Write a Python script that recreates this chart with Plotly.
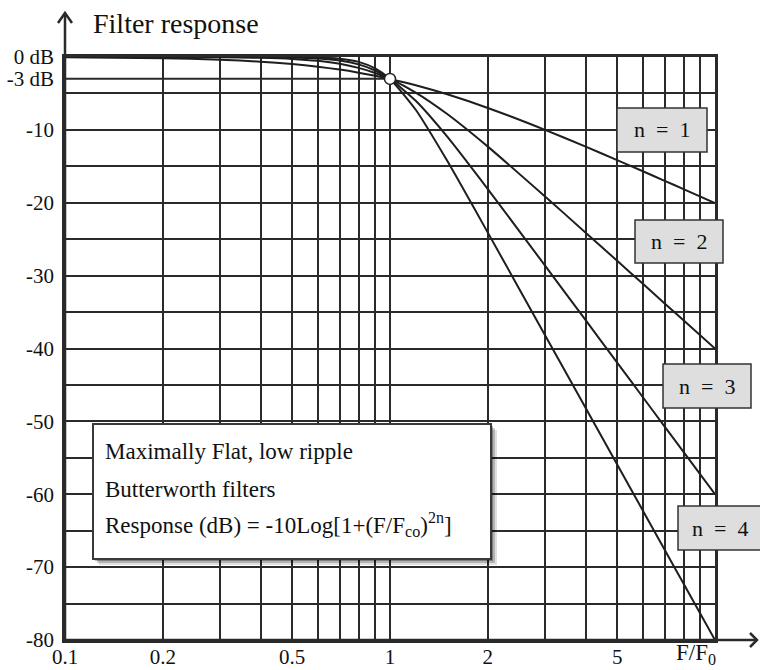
import plotly.graph_objects as go

# Normalised frequency F/F0 at which the responses are tabulated
freq = [0.1, 0.2, 0.3, 0.4, 0.5, 0.6, 0.7, 0.8, 0.9, 1.0, 1.2, 1.5, 2, 3, 4, 5, 6, 7, 8, 10]

# Attenuation in dB for filter orders n = 1..4
resp_n1 = [-0.04, -0.17, -0.37, -0.64, -0.97, -1.34, -1.73, -2.15, -2.58, -3.01,
           -3.87, -5.12, -6.99, -10.0, -12.3, -14.15, -15.68, -16.99, -18.13, -20.04]
resp_n2 = [0.0, -0.01, -0.04, -0.11, -0.26, -0.53, -0.93, -1.49, -2.19, -3.01,
           -4.88, -7.83, -12.3, -19.14, -24.1, -27.97, -31.13, -33.81, -36.12, -40.0]
resp_n3 = [0.0, 0.0, 0.0, -0.02, -0.07, -0.2, -0.48, -1.01, -1.85, -3.01,
           -6.01, -10.93, -18.13, -28.63, -36.12, -41.94, -46.69, -50.71, -54.19, -60.0]
resp_n4 = [0.0, 0.0, 0.0, 0.0, -0.02, -0.07, -0.24, -0.67, -1.56, -3.01,
           -7.24, -14.25, -24.1, -38.17, -48.16, -55.92, -62.25, -67.61, -72.25, -80.0]
series = [resp_n1, resp_n2, resp_n3, resp_n4]
order_labels = ["n\u2002=\u20021", "n\u2002=\u20022", "n\u2002=\u20023", "n\u2002=\u20024"]

# Cut-off point
cutoff_f = [1.0]
cutoff_db = [-3.01]

# Axis ticks
x_grid = [0.1, 0.2, 0.3, 0.4, 0.5, 0.6, 0.7, 0.8, 0.9, 1, 2, 3, 4, 5, 6, 7, 8, 9, 10]
x_labelled = {0.1: "0.1", 0.2: "0.2", 0.5: "0.5", 1: "1", 2: "2", 5: "5"}
y_labels_vals = [0, -3, -10, -20, -30, -40, -50, -60, -70, -80]
y_labels_text = ["0 dB", "-3 dB", "-10", "-20", "-30", "-40", "-50", "-60", "-70", "-80"]
y_grid = [-5, -10, -15, -20, -25, -30, -35, -40, -45, -50, -55, -60, -65, -70, -75]

W, H = 760, 670
L, R, T, B = 65, 715, 57, 640
INK = "#2a2a2a"
SERIF = "Liberation Serif, Times New Roman, serif"


def px(x):
    return (x - L) / (R - L)


def py(y):
    return (B - y) / (B - T)


fig = go.Figure()

for resp in series:
    fig.add_trace(go.Scatter(
        x=freq, y=resp, mode="lines",
        line=dict(color="#1e1e1e", width=2, shape="spline", smoothing=0.6),
        cliponaxis=False, hoverinfo="skip", showlegend=False,
    ))

fig.add_trace(go.Scatter(
    x=cutoff_f, y=cutoff_db, mode="markers",
    marker=dict(size=11, color="white", line=dict(color="#222", width=1.5)),
    cliponaxis=False, showlegend=False,
))

shapes = []

# -3 dB reference line up to the cut-off frequency
shapes.append(dict(type="line", xref="x", yref="y", x0=0.1, x1=cutoff_f[0],
                   y0=-3, y1=-3, line=dict(color=INK, width=2), layer="below"))

# Axis arrows
shapes.append(dict(type="line", xref="paper", yref="paper",
                   x0=px(L), x1=px(L), y0=py(B), y1=py(13),
                   line=dict(color=INK, width=2.5)))
shapes.append(dict(type="path", xref="paper", yref="paper",
                   path=f"M {px(58)},{py(23)} L {px(L)},{py(13)} L {px(72)},{py(23)}",
                   line=dict(color=INK, width=2.5)))
shapes.append(dict(type="line", xref="paper", yref="paper",
                   x0=px(L), x1=px(757), y0=py(B), y1=py(B),
                   line=dict(color=INK, width=2.5)))
shapes.append(dict(type="path", xref="paper", yref="paper",
                   path=f"M {px(750)},{py(633)} L {px(757)},{py(B)} L {px(750)},{py(647)}",
                   line=dict(color=INK, width=2.5)))

# Description box with a soft drop shadow
bx0, by0, bx1, by1 = 93, 424, 491, 559
for off, alpha in [(6, 0.12), (4, 0.2), (2, 0.3)]:
    shapes.append(dict(type="rect", xref="paper", yref="paper",
                       x0=px(bx0 + off), x1=px(bx1 + off), y0=py(by1 + off), y1=py(by0 + off),
                       line=dict(width=0), fillcolor=f"rgba(0,0,0,{alpha})", layer="above"))
shapes.append(dict(type="rect", xref="paper", yref="paper",
                   x0=px(bx0), x1=px(bx1), y0=py(by1), y1=py(by0),
                   line=dict(color="#3a3a3a", width=2), fillcolor="white", layer="above"))

# Order label boxes
label_boxes = [(617, 108, 707, 152), (635, 220, 723, 263), (663, 364, 751, 408), (678, 506, 762, 550)]
annotations = []
for (x0, y0, x1, y1), txt in zip(label_boxes, order_labels):
    shapes.append(dict(type="rect", xref="paper", yref="paper",
                       x0=px(x0), x1=px(x1), y0=py(y1), y1=py(y0),
                       line=dict(color="#333", width=1.5), fillcolor="#dedede", layer="above"))
    annotations.append(dict(xref="paper", yref="paper", x=px((x0 + x1) / 2), y=py((y0 + y1) / 2),
                            text=txt, showarrow=False, xanchor="center", yanchor="middle",
                            font=dict(family=SERIF, size=22, color="#111")))

# Description text
desc_lines = [
    ("Maximally Flat, low ripple", 452),
    ("Butterworth filters", 489),
    ("Response (dB) = -10Log[1+(F/F<sub>co</sub>)<sup>2n</sup>]", 524),
]
for txt, yc in desc_lines:
    annotations.append(dict(xref="paper", yref="paper", x=px(103), y=py(yc), text=txt,
                            showarrow=False, xanchor="left", yanchor="middle",
                            font=dict(family=SERIF, size=23, color="#111")))

annotations.append(dict(xref="paper", yref="paper", x=px(91), y=py(23), text="Filter response",
                        showarrow=False, xanchor="left", yanchor="middle",
                        font=dict(family=SERIF, size=28, color="#111")))
annotations.append(dict(xref="paper", yref="paper", x=px(674), y=py(654), text="F/F<sub>0</sub>",
                        showarrow=False, xanchor="left", yanchor="middle",
                        font=dict(family=SERIF, size=23, color="#111")))

fig.update_layout(
    width=W, height=H,
    margin=dict(l=L, r=W - R, t=T, b=H - B, pad=0),
    paper_bgcolor="white", plot_bgcolor="white",
    shapes=shapes, annotations=annotations,
    showlegend=False,
    xaxis=dict(
        type="log", range=[-1, 1], automargin=False,
        tickmode="array", tickvals=x_grid,
        ticktext=[x_labelled.get(v, "") for v in x_grid],
        showgrid=True, gridcolor=INK, gridwidth=2,
        showline=True, mirror=True, linecolor=INK, linewidth=2.5,
        ticks="", ticklabelstandoff=-4,
        tickfont=dict(family=SERIF, size=21, color="#111"),
        zeroline=False, fixedrange=True,
    ),
    yaxis=dict(
        range=[-80, 0], automargin=False,
        tickmode="array", tickvals=y_labels_vals, ticktext=y_labels_text,
        showgrid=False,
        minor=dict(tickmode="array", tickvals=y_grid, showgrid=True,
                   gridcolor=INK, gridwidth=2, ticks=""),
        showline=True, mirror=True, linecolor=INK, linewidth=2.5,
        ticks="", ticklabelstandoff=4,
        tickfont=dict(family=SERIF, size=21, color="#111"),
        zeroline=False, fixedrange=True,
    ),
)

fig.write_html("out.html")
